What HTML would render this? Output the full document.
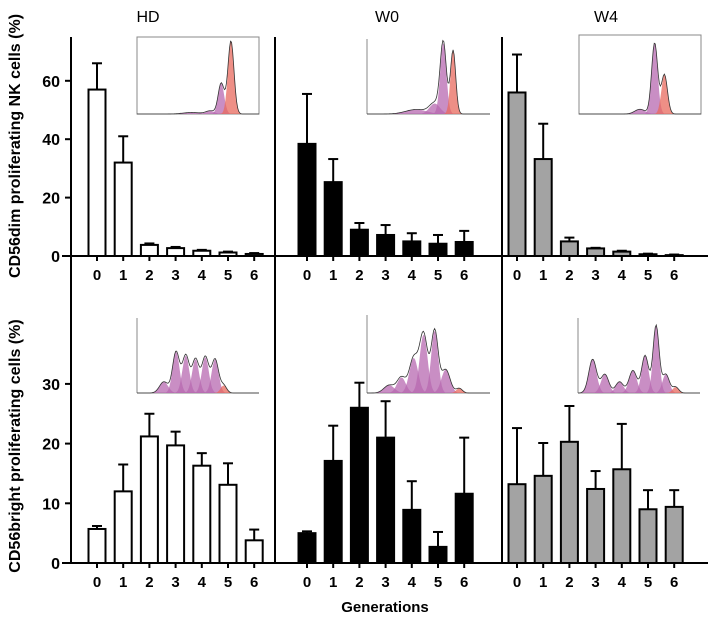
<!DOCTYPE html>
<html><head><meta charset="utf-8"><style>
html,body{margin:0;padding:0;background:#fff;width:708px;height:620px;overflow:hidden}
svg{display:block;font-family:"Liberation Sans",Arial,sans-serif}
</style></head><body>
<svg id="chart" width="708" height="620" viewBox="0 0 708 620"></svg>
<script>
const generations = ["0","1","2","3","4","5","6"];
const panelNames = ["HD","W0","W4"];
const dimHD = [57,32,3.8,2.7,1.8,1.2,0.7];
const dimHDerr = [66,41,4.3,3.1,2.1,1.5,1.0];
const dimW0 = [38.4,25.3,9,7.2,5,4.2,4.8];
const dimW0err = [55.5,33.2,11.3,10.6,7.8,7.2,8.6];
const dimW4 = [56,33.2,5,2.6,1.5,0.6,0.3];
const dimW4err = [69,45.3,6.3,2.8,1.8,0.8,0.5];
const brHD = [5.7,12,21.2,19.7,16.3,13.1,3.8];
const brHDerr = [6.2,16.5,25,22,18.4,16.7,5.6];
const brW0 = [5,17.1,26,21,8.9,2.7,11.6];
const brW0err = [5.3,23,30.2,27.1,13.7,5.2,21];
const brW4 = [13.2,14.6,20.3,12.4,15.7,9,9.4];
const brW4err = [22.6,20.1,26.3,15.4,23.3,12.2,12.2];
const dimTicks = [0,20,40,60];
const brTicks = [0,10,20,30];

const NS="http://www.w3.org/2000/svg";
const svg=document.getElementById('chart');
function mk(tag,attrs,parent){const e=document.createElementNS(NS,tag);for(const k in attrs)e.setAttribute(k,attrs[k]);(parent||svg).appendChild(e);return e;}

const yDim=v=>256-v*2.92;
const yBr=v=>563-v*5.97;
const panelStart=[97,307,517];
const step=26.2;
const xBar=(p,i)=>panelStart[p]+i*step;
const fills=["#ffffff","#000000","#a3a3a3"];

let e;
e=mk('line',{x1:62,y1:256,x2:708,y2:256,stroke:'#000','stroke-width':2});

e=mk('line',{x1:62,y1:563,x2:708,y2:563,stroke:'#000','stroke-width':2});

e=mk('line',{x1:71,y1:37,x2:71,y2:563,stroke:'#000','stroke-width':2});

[275,502].forEach(x=>{
  e=mk('line',{x1:x,y1:37,x2:x,y2:563,stroke:'#000','stroke-width':2});
  
});

dimTicks.forEach(t=>{
  const y=yDim(t);
  mk('line',{x1:65,y1:y,x2:71,y2:y,stroke:'#000','stroke-width':2});
  e=mk('text',{x:60,y:y+6,'text-anchor':'end','font-size':16,'font-weight':'bold'});e.textContent=t;
  
});
brTicks.forEach(t=>{
  const y=yBr(t);
  mk('line',{x1:65,y1:y,x2:71,y2:y,stroke:'#000','stroke-width':2});
  e=mk('text',{x:60,y:y+6,'text-anchor':'end','font-size':16,'font-weight':'bold'});e.textContent=t;
  
});

function drawBars(p,vals,errs,ys,base,label){
  vals.forEach((v,i)=>{
    const cx=xBar(p,i);
    const top=ys(v), et=ys(errs[i]);
    e=mk('line',{x1:cx,y1:top,x2:cx,y2:et,stroke:'#000','stroke-width':2});
    
    mk('line',{x1:cx-5,y1:et,x2:cx+5,y2:et,stroke:'#000','stroke-width':2});
    e=mk('rect',{x:cx-8.5,y:top,width:17,height:Math.max(base-top,0.5),fill:fills[p],stroke:'#000','stroke-width':2});
    
    mk('line',{x1:cx,y1:base,x2:cx,y2:base+5,stroke:'#000','stroke-width':2});
    e=mk('text',{x:cx,y:base+24,'text-anchor':'middle','font-size':15,'font-weight':'bold'});e.textContent=generations[i];
    
  });
}
drawBars(0,dimHD,dimHDerr,yDim,256,'dim-hd');
drawBars(1,dimW0,dimW0err,yDim,256,'dim-w0');
drawBars(2,dimW4,dimW4err,yDim,256,'dim-w4');
drawBars(0,brHD,brHDerr,yBr,563,'bright-hd');
drawBars(1,brW0,brW0err,yBr,563,'bright-w0');
drawBars(2,brW4,brW4err,yBr,563,'bright-w4');

[[148,"HD"],[387,"W0"],[606,"W4"]].forEach(([x,t])=>{
  e=mk('text',{x:x,y:22,'text-anchor':'middle','font-size':16});e.textContent=t;
  
});
e=mk('text',{x:0,y:0,'text-anchor':'middle','font-size':16,'font-weight':'bold',transform:'translate(20,146) rotate(-90)'});
e.textContent="CD56dim proliferating NK cells (%)";

e=mk('text',{x:0,y:0,'text-anchor':'middle','font-size':16,'font-weight':'bold',transform:'translate(20,446) rotate(-90)'});
e.textContent="CD56bright proliferating cells (%)";

e=mk('text',{x:385,y:612,'text-anchor':'middle','font-size':15,'font-weight':'bold'});
e.textContent="Generations";


function inset(x,y,w,h,box,peaks,name){
  const g=mk('g',{});
  
  if(box) mk('rect',{x:x,y:y,width:w,height:h,fill:'#fff',stroke:'#888','stroke-width':1},g);
  else { mk('line',{x1:x,y1:y,x2:x,y2:y+h,stroke:'#888'},g); mk('line',{x1:x,y1:y+h,x2:x+w,y2:y+h,stroke:'#888'},g);}
  const base=y+h;
  let outline=[];
  const N=120;
  for(let k=0;k<=N;k++){
    const f=k/N;let s=0;
    peaks.forEach(p=>{s+=p[1]*Math.exp(-Math.pow((f-p[0])/p[2],2));});
    outline.push([x+f*w,base-Math.min(s,0.98)*h]);
  }
  peaks.forEach(p=>{
    let d='M';
    for(let k=0;k<=N;k++){const f=k/N;const v=p[1]*Math.exp(-Math.pow((f-p[0])/p[2],2));d+=(x+f*w).toFixed(1)+','+(base-v*h).toFixed(1)+' L';}
    d=d.slice(0,-2)+' Z';
    mk('path',{d:d,fill:p[3],'fill-opacity':0.75,stroke:'none'},g);
  });
  mk('polyline',{points:outline.map(q=>q.join(',')).join(' '),fill:'none',stroke:'#333','stroke-width':0.8},g);
}
const P='#b768b0', R='#e86a5e';
inset(137,37,122,77,true,[[0.45,0.02,0.1,P],[0.6,0.04,0.05,P],[0.69,0.4,0.035,P],[0.77,0.95,0.035,R]],'hd-dim-histogram');
inset(367,39,123,75,false,[[0.4,0.06,0.12,P],[0.55,0.14,0.06,P],[0.62,0.95,0.035,P],[0.7,0.85,0.03,R]],'w0-dim-histogram');
inset(579,35,122,79,true,[[0.5,0.06,0.06,P],[0.62,0.9,0.035,P],[0.7,0.5,0.035,R]],'w4-dim-histogram');
inset(137,318,122,75,false,[[0.22,0.15,0.05,P],[0.32,0.55,0.04,P],[0.4,0.5,0.04,P],[0.48,0.45,0.04,P],[0.56,0.48,0.04,P],[0.64,0.45,0.04,P],[0.71,0.1,0.035,R]],'hd-bright-histogram');
inset(367,315,123,78,false,[[0.18,0.1,0.06,P],[0.28,0.2,0.05,P],[0.38,0.45,0.05,P],[0.46,0.75,0.045,P],[0.55,0.8,0.04,P],[0.64,0.3,0.05,P],[0.75,0.06,0.035,R]],'w0-bright-histogram');
inset(578,318,122,75,false,[[0.12,0.45,0.045,P],[0.22,0.25,0.045,P],[0.34,0.15,0.045,P],[0.45,0.3,0.045,P],[0.55,0.5,0.04,P],[0.64,0.9,0.035,P],[0.72,0.25,0.04,P],[0.8,0.08,0.035,R]],'w4-bright-histogram');
</script>
</body></html>
